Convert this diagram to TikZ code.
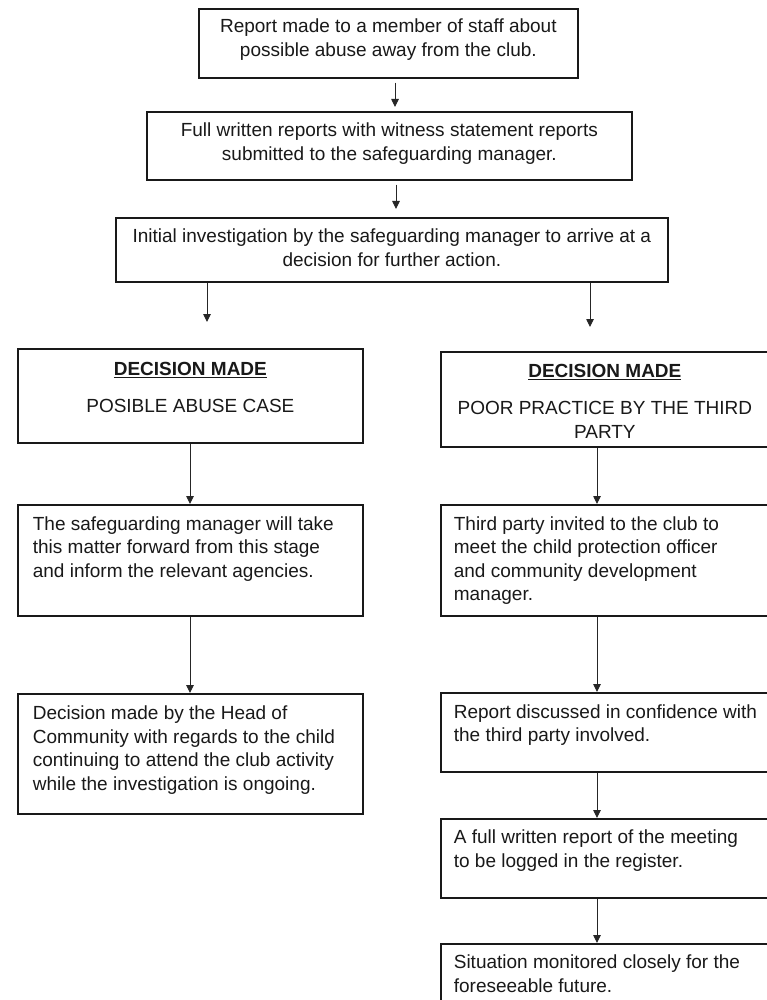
\documentclass[tikz,border=0pt]{standalone}
\usepackage{fontspec}
\setmainfont{Liberation Sans}
\usetikzlibrary{arrows.meta}
\tikzset{
  frame/.style={draw=black!90, line width=1.7pt, inner sep=0pt, anchor=north west, text=black!90},
  arr/.style={draw=black!85, line width=0.9pt, -{Triangle[length=8pt,width=7.5pt]}}
}
% #1 name, #2 x, #3 y, #4 W, #5 H, #6 left pad, #7 top pad, #8 text
\newcommand{\leftbox}[8]{%
  \node[frame] (#1) at (#2,#3) {\parbox[t][#5pt][t]{#4pt}{\fontsize{19}{23.5}\selectfont\raggedright\leftskip=#6pt\relax\vspace*{#7pt}\strut #8}};}
\newcommand{\midbox}[7]{%
  \node[frame] (#1) at (#2,#3) {\parbox[t][#5pt][t]{#4pt}{\fontsize{19}{24}\selectfont\centering\vspace*{#6pt}\strut #7}};}
\begin{document}
\begin{tikzpicture}[x=1pt,y=-1pt]
\fill[white] (0,0) rectangle (767,1000);
\useasboundingbox (0,0) rectangle (767,1000);

\midbox{b1}{198}{8}{379}{69}{7}{Report made to a member of staff about\\possible abuse away from the club.}
\midbox{b2}{146}{111}{485}{68}{8}{Full written reports with witness statement reports\\submitted to the safeguarding manager.}
\midbox{b3}{115}{217}{552}{64}{8}{Initial investigation by the safeguarding manager to arrive at a\\decision for further action.}

\midbox{d1}{17}{348}{345}{94}{10}{\underline{\textbf{DECISION MADE}}\\[13pt]POSIBLE ABUSE CASE}
\midbox{d2}{440}{351}{328}{95}{9}{\underline{\textbf{DECISION MADE}}\\[13pt]POOR PRACTICE BY THE THIRD\\PARTY}

\leftbox{l2}{17}{504}{345}{111}{15}{9}{The safeguarding manager will take\\this matter forward from this stage\\and inform the relevant agencies.}
\leftbox{l3}{17}{693}{345}{120}{15}{9.5}{Decision made by the Head of\\Community with regards to the child\\continuing to attend the club activity\\while the investigation is ongoing.}

\leftbox{r2}{440}{504}{328}{111}{13}{9}{Third party invited to the club to\\meet the child protection officer\\and community development\\manager.}
\leftbox{r3}{440}{692}{328}{79}{13}{9}{Report discussed in confidence with\\the third party involved.}
\leftbox{r4}{440}{818}{328}{79}{13}{8.5}{A full written report of the meeting\\to be logged in the register.}
\leftbox{r5}{440}{943}{328}{80}{13}{8.5}{Situation monitored closely for the\\foreseeable future.}

\coordinate (ax1) at (395,0);
\coordinate (ax2) at (396,0);
\coordinate (c3) at (207,322);
\coordinate (c4) at (590,327);
\coordinate (lx) at (190,0);
\coordinate (rx) at (597,0);

\draw[arr] ([yshift=-4pt]b1.south -| ax1) -- ([yshift=4pt]b2.north -| ax1);
\draw[arr] ([yshift=-4pt]b2.south -| ax2) -- ([yshift=8pt]b3.north -| ax2);
\draw[arr] (c3 |- b3.south) -- (c3);
\draw[arr] (c4 |- b3.south) -- (c4);

\draw[arr] (d1.south -| lx) -- (l2.north -| lx);
\draw[arr] (l2.south -| lx) -- (l3.north -| lx);
\draw[arr] (d2.south -| rx) -- (r2.north -| rx);
\draw[arr] (r2.south -| rx) -- (r3.north -| rx);
\draw[arr] (r3.south -| rx) -- (r4.north -| rx);
\draw[arr] (r4.south -| rx) -- (r5.north -| rx);
\end{tikzpicture}
\end{document}
